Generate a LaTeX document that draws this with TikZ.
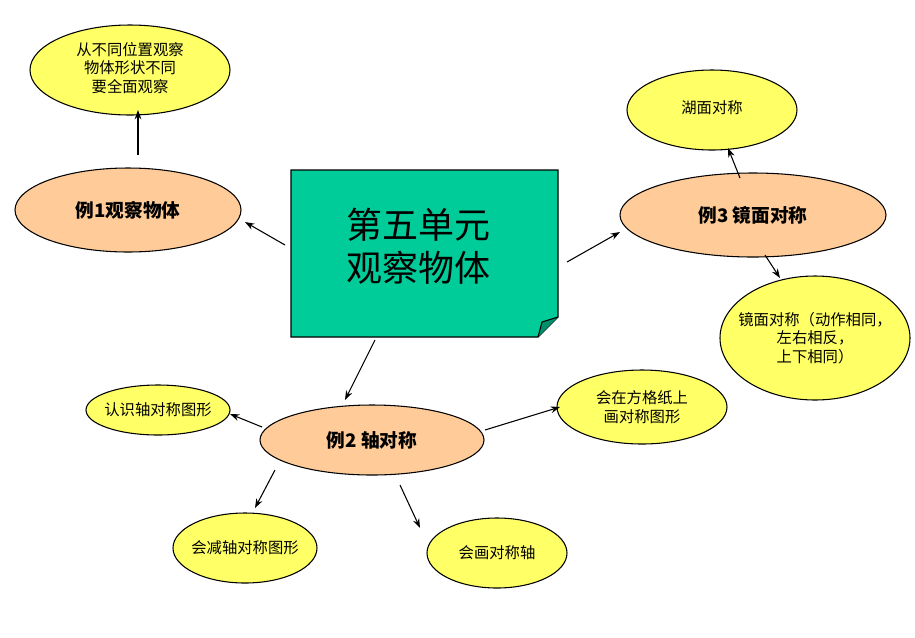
\documentclass[tikz,border=0pt]{standalone}
\usepackage{fontspec}
\setmainfont{Liberation Serif}
\newfontfamily\cjk{Noto Sans CJK SC}
\usetikzlibrary{arrows.meta}
\definecolor{yel}{RGB}{255,255,102}
\definecolor{peach}{RGB}{255,204,153}
\definecolor{teal2}{RGB}{0,204,153}
\begin{document}
\begin{tikzpicture}[x=0.75pt,y=-0.75pt,
  yb/.style={draw,fill=yel,line width=0.8pt},
  pb/.style={draw,fill=peach,line width=0.8pt},
  lbl/.style={font=\cjk\fontsize{11.5}{14}\selectfont,align=center},
  blbl/.style={font=\cjk\bfseries\fontsize{14}{17}\selectfont,align=center},
  arr/.style={-{Stealth[length=7pt,width=5pt]},line width=0.8pt}]
\useasboundingbox (0,0) rectangle (915,637);
\fill[white] (0,0) rectangle (915,637);
% central note
\draw[fill=teal2,line width=0.8pt] (291,170) -- (558,170) -- (558,317) -- (538,337) -- (291,337) -- cycle;
\draw[fill=teal2!70!black,line width=0.8pt] (558,317) -- (542,322) -- (538,337);
\node[font=\cjk\fontsize{27}{32}\selectfont,align=left] (c) at (418,246) {第五单元\\观察物体};
% ellipses
\draw[yb] (130,70) ellipse (100 and 45);
\node[lbl] (a0) at (130,68) {从不同位置观察\\物体形状不同\\要全面观察};
\draw[pb] (128,210) ellipse (113 and 42);
\node[blbl] (e1) at (128,210) {例1观察物体};
\draw[pb] (753,215) ellipse (133 and 42);
\node[blbl] (e3) at (753,215) {例3 镜面对称};
\draw[yb] (712,110) ellipse (85 and 40);
\node[lbl] (h) at (712,108) {湖面对称};
\draw[yb] (815,338) ellipse (95 and 62);
\node[lbl] (m) at (815,338) {镜面对称（动作相同，\\左右相反，\\上下相同）};
\draw[pb] (372,440) ellipse (112 and 35);
\node[blbl] (e2) at (372,440) {例2 轴对称};
\draw[yb] (158,410) ellipse (72 and 25);
\node[lbl] (r) at (158,410) {认识轴对称图形};
\draw[yb] (642,407) ellipse (85 and 37);
\node[lbl] (g) at (642,407) {会在方格纸上\\画对称图形};
\draw[yb] (245,548) ellipse (72 and 35);
\node[lbl] (j) at (245,548) {会减轴对称图形};
\draw[yb] (497,553) ellipse (70 and 35);
\node[lbl] (d) at (497,553) {会画对称轴};
% arrow end points
\coordinate (p1a) at (138,155); \coordinate (p1b) at (138,110);
\coordinate (p2a) at (285,245); \coordinate (p2b) at (245,222);
\coordinate (p3a) at (567,262); \coordinate (p3b) at (620,232);
\coordinate (p4a) at (740,178); \coordinate (p4b) at (728,148);
\coordinate (p5a) at (765,255); \coordinate (p5b) at (780,278);
\coordinate (p6a) at (375,340); \coordinate (p6b) at (345,400);
\coordinate (p7a) at (262,427); \coordinate (p7b) at (230,414);
\coordinate (p8a) at (485,430); \coordinate (p8b) at (560,407);
\coordinate (p9a) at (275,470); \coordinate (p9b) at (255,508);
\coordinate (p10a) at (400,485); \coordinate (p10b) at (420,528);
\foreach \i in {1,...,10} \draw[arr] (p\i a) -- (p\i b);
\end{tikzpicture}
\end{document}
